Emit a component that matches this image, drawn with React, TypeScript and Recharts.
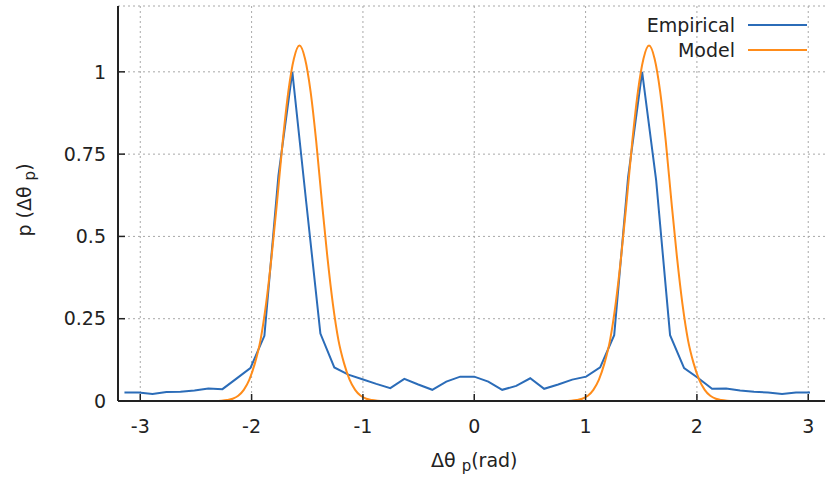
import React from "react";
import { CartesianGrid, Legend, Line, LineChart, XAxis, YAxis } from "recharts";

const FONT = "'DejaVu Sans', Verdana, sans-serif";
const BLUE = "#2b6cb8";
const ORANGE = "#ff8c1a";
const INK = "#222";

// histogram bin centres (rad) and empirical density
const empiricalX = [
  -3.142, -3.016, -2.89, -2.765, -2.639, -2.513, -2.388, -2.262, -2.136, -2.011,
  -1.885, -1.759, -1.634, -1.508, -1.382, -1.257, -1.131, -1.005, -0.88, -0.754,
  -0.628, -0.503, -0.377, -0.251, -0.126, 0, 0.126, 0.251, 0.377, 0.503,
  0.628, 0.754, 0.88, 1.005, 1.131, 1.257, 1.382, 1.508, 1.634, 1.759,
  1.885, 2.011, 2.136, 2.262, 2.388, 2.513, 2.639, 2.765, 2.89, 3.016
];
const empiricalP = [
  0.026, 0.026, 0.021, 0.027, 0.028, 0.032, 0.038, 0.036, 0.068, 0.1,
  0.198, 0.685, 1.0, 0.6, 0.205, 0.102, 0.08, 0.066, 0.052, 0.039,
  0.067, 0.05, 0.034, 0.059, 0.074, 0.074, 0.059, 0.034, 0.046, 0.069,
  0.037, 0.05, 0.065, 0.074, 0.102, 0.2, 0.68, 1.0, 0.67, 0.2,
  0.1, 0.07, 0.037, 0.038, 0.032, 0.028, 0.026, 0.021, 0.026, 0.026
];

// model curve
const modelX = [
  -3.142,
  -2.32, -2.27, -2.22, -2.17, -2.12, -2.07, -2.02, -1.97, -1.92, -1.87,
  -1.82, -1.77, -1.72, -1.67, -1.62, -1.57, -1.52, -1.47, -1.42, -1.37,
  -1.32, -1.27, -1.22, -1.17, -1.12, -1.07, -1.02, -0.97, -0.92, -0.87, -0.82,
  0.82, 0.87, 0.92, 0.97, 1.02, 1.07, 1.12, 1.17, 1.22, 1.27,
  1.32, 1.37, 1.42, 1.47, 1.52, 1.57, 1.62, 1.67, 1.72, 1.77,
  1.82, 1.87, 1.92, 1.97, 2.02, 2.07, 2.12, 2.17, 2.22, 2.27, 2.32,
  3.142
];
const modelP = [
  0,
  0, 0.001, 0.003, 0.007, 0.016, 0.034, 0.065, 0.115, 0.185, 0.295,
  0.44, 0.61, 0.79, 0.94, 1.04, 1.08, 1.04, 0.94, 0.79, 0.61,
  0.44, 0.295, 0.185, 0.115, 0.065, 0.034, 0.016, 0.007, 0.003, 0.001, 0,
  0, 0.001, 0.003, 0.007, 0.016, 0.034, 0.065, 0.115, 0.185, 0.295,
  0.44, 0.61, 0.79, 0.94, 1.04, 1.08, 1.04, 0.94, 0.79, 0.61,
  0.44, 0.295, 0.185, 0.115, 0.065, 0.034, 0.016, 0.007, 0.003, 0.001, 0,
  0
];

const xTicks = [-3, -2, -1, 0, 1, 2, 3];
const yTicks = [0, 0.25, 0.5, 0.75, 1];

const empiricalData = empiricalX.map((x, i) => ({ x, p: empiricalP[i] }));
const modelData = modelX.map((x, i) => ({ x, p: modelP[i] }));

const tickStyle = { fill: INK, fontSize: 19, fontFamily: FONT };
const axisLine = { stroke: "#222", strokeWidth: 2 };
const tickLine = { stroke: "#222", strokeWidth: 1.5 };

function LegendBox({ payload }: any) {
  return (
    <div style={{ fontFamily: FONT, fontSize: 19, color: INK }}>
      {(payload || []).map((item: any) => (
        <div
          key={item.value}
          style={{ display: "flex", justifyContent: "flex-end", alignItems: "center", height: 25, lineHeight: "25px" }}
        >
          <span>{item.value}</span>
          <span style={{ display: "inline-block", width: 59, height: 0, borderTop: `2px solid ${item.color}`, marginLeft: 13 }} />
        </div>
      ))}
    </div>
  );
}

function XLabel({ viewBox }: any) {
  const cx = viewBox.x + viewBox.width / 2;
  return (
    <text x={cx} y={viewBox.y + 66} textAnchor="middle" fill={INK} fontSize={19} fontFamily={FONT}>
      Δθ <tspan dy={4} fontSize={15}>p</tspan><tspan dy={-4}>(rad)</tspan>
    </text>
  );
}

function YLabel() {
  return (
    <text x={31} y={200} transform="rotate(-90, 31, 200)" textAnchor="middle" fill={INK} fontSize={19} fontFamily={FONT}>
      p (Δθ <tspan dy={4} fontSize={15}>p</tspan><tspan dy={-4}>)</tspan>
    </text>
  );
}

export default function App() {
  return (
    <div style={{ position: "absolute", left: 0, top: 0, width: 825, height: 477, overflow: "hidden", background: "#fff" }}>
      <LineChart width={840} height={477} margin={{ top: 6, right: 9.5, bottom: 0, left: 0 }} style={{ fontFamily: FONT }}>
        <CartesianGrid stroke="#a8a8a8" strokeDasharray="2 3" />
        <XAxis
          dataKey="x"
          type="number"
          domain={[-3.2, 3.2]}
          allowDataOverflow
          ticks={xTicks}
          height={76}
          tickSize={-7}
          tickMargin={26}
          tick={tickStyle}
          axisLine={axisLine}
          tickLine={tickLine}
          label={{ content: XLabel }}
        />
        <XAxis
          xAxisId="top"
          orientation="top"
          type="number"
          domain={[-3.2, 3.2]}
          allowDataOverflow
          ticks={xTicks}
          height={0}
          tickSize={-7}
          tickFormatter={() => ""}
          axisLine={axisLine}
          tickLine={tickLine}
        />
        <YAxis
          type="number"
          domain={[0, 1.2]}
          allowDataOverflow
          ticks={yTicks}
          width={118}
          tickSize={-7}
          tickMargin={19}
          tick={tickStyle}
          tickFormatter={(v: number) => String(v)}
          axisLine={axisLine}
          tickLine={tickLine}
          label={{ content: YLabel }}
        />
        <YAxis
          yAxisId="right"
          orientation="right"
          type="number"
          domain={[0, 1.2]}
          allowDataOverflow
          ticks={yTicks}
          width={0}
          tickSize={-7}
          tickFormatter={() => ""}
          axisLine={axisLine}
          tickLine={tickLine}
        />
        <Legend
          layout="horizontal"
          verticalAlign="middle"
          align="center"
          content={LegendBox}
          wrapperStyle={{ position: "absolute", top: 12.5, left: 600, width: 207 }}
        />
        <Line
          data={empiricalData}
          dataKey="p"
          name="Empirical"
          type="linear"
          stroke={BLUE}
          strokeWidth={2}
          dot={false}
          activeDot={false}
          isAnimationActive={false}
        />
        <Line
          data={modelData}
          dataKey="p"
          name="Model"
          type="monotone"
          stroke={ORANGE}
          strokeWidth={2}
          dot={false}
          activeDot={false}
          isAnimationActive={false}
        />
      </LineChart>
    </div>
  );
}
